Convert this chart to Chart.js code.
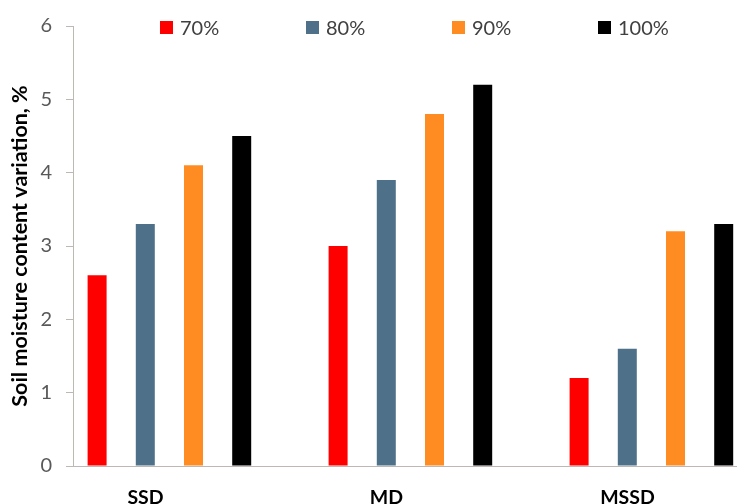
<!DOCTYPE html>
<html>
<head>
<meta charset="utf-8">
<title>Soil moisture content variation</title>
<script src="https://cdn.jsdelivr.net/npm/chart.js@4.4.0/dist/chart.umd.min.js"></script>
<style>
    html, body {
        margin: 0;
        padding: 0;
        background: #fff;
        overflow: hidden;
    }
    #wrap {
        position: relative;
        width: 737px;
        height: 504px;
        overflow: hidden;
    }
    #moisture-chart {
        position: absolute;
        left: 0;
        top: 0;
    }
    #legend {
        position: absolute;
        left: 160px;
        top: 16px;
        display: flex;
        font-family: Lato, "Open Sans", sans-serif;
        font-size: 20px;
        line-height: 22px;
        color: #404040;
    }
    #legend .item {
        width: 146px;
        display: flex;
        align-items: center;
    }
    #legend .box {
        width: 13px;
        height: 13px;
        margin-right: 7px;
    }
</style>
</head>
<body>
<div id="wrap">
    <canvas id="moisture-chart" width="800" height="504"></canvas>
    <div id="legend"></div>
</div>

<script>

// categories (x axis)
const categories = ["SSD", "MD", "MSSD"];

// series names (legend)
const seriesLabels = ["70%", "80%", "90%", "100%"];

// soil moisture content variation, %
const values70 = [2.6, 3.0, 1.2];
const values80 = [3.3, 3.9, 1.6];
const values90 = [4.1, 4.8, 3.2];
const values100 = [4.5, 5.2, 3.3];

// the original chart keeps a fifth, empty series slot in every group
const emptySlot = [null, null, null];

// y axis ticks
const yTicks = [0, 1, 2, 3, 4, 5, 6];


const palette = ["#ff0000", "#4e7189", "#ff8c22", "#000000"];
const axisColor = "#bdb8b3";


const MoistureChart = {

    instance: null,

    /**
     * legend drawn as html, one fixed-width item per series
     */
    buildLegend() {

        const box = document.getElementById("legend");

        seriesLabels.forEach((name, i) => {

            const item = document.createElement("div");
            item.className = "item";

            const mark = document.createElement("span");
            mark.className = "box";
            mark.style.background = palette[i];

            const text = document.createElement("span");
            text.textContent = name;

            item.appendChild(mark);
            item.appendChild(text);
            box.appendChild(item);

        });

    },

    init() {

        const canvas = document.getElementById("moisture-chart");

        if (!canvas) {
            return;
        }

        this.buildLegend();

        const series = [values70, values80, values90, values100];

        const datasets = series.map((values, i) => ({
            label: seriesLabels[i],
            data: values,
            backgroundColor: palette[i],
            borderWidth: 0,
            categoryPercentage: 1,
            barPercentage: 0.394
        }));

        datasets.push({
            label: "",
            data: emptySlot,
            categoryPercentage: 1,
            barPercentage: 0.394
        });

        this.instance = new Chart(canvas, {

            type: "bar",

            data: {
                labels: categories,
                datasets: datasets
            },

            options: {

                responsive: false,
                animation: false,

                layout: {
                    padding: { top: 24, right: 4, left: 0, bottom: 0 }
                },

                plugins: {
                    legend: { display: false },
                    tooltip: { enabled: false }
                },

                scales: {

                    x: {
                        offset: true,
                        grid: {
                            drawOnChartArea: false,
                            drawTicks: false
                        },
                        border: {
                            display: true,
                            color: axisColor,
                            width: 1
                        },
                        ticks: {
                            color: "#000",
                            padding: 20,
                            labelOffset: -48,
                            maxRotation: 0,
                            font: {
                                family: "Lato",
                                size: 19.5,
                                weight: "bold"
                            }
                        },
                        afterFit(scale) {
                            scale.height = 38;
                        }
                    },

                    y: {
                        min: yTicks[0],
                        max: yTicks[yTicks.length - 1],
                        grid: {
                            drawOnChartArea: false,
                            drawTicks: true,
                            tickLength: 7,
                            color: axisColor
                        },
                        border: {
                            display: true,
                            color: axisColor,
                            width: 1
                        },
                        ticks: {
                            stepSize: 1,
                            padding: 14,
                            color: "#595959",
                            font: {
                                family: "Lato",
                                size: 20
                            }
                        },
                        title: {
                            display: true,
                            text: "Soil moisture content variation, %",
                            color: "#000",
                            padding: { top: 7, bottom: 0 },
                            font: {
                                family: "Lato",
                                size: 21.5,
                                weight: "bold"
                            }
                        },
                        afterFit(scale) {
                            scale.width = 73;
                        }
                    }

                }

            }

        });

    }

};


MoistureChart.init();

</script>
</body>
</html>
